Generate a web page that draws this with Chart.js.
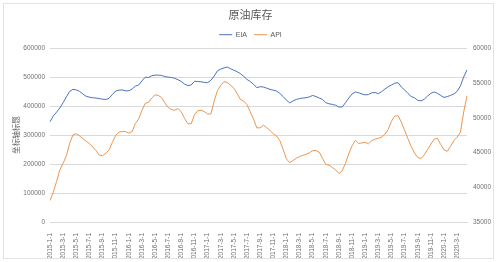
<!DOCTYPE html>
<html><head><meta charset="utf-8">
<script src="https://cdn.jsdelivr.net/npm/chart.js@4.4.1/dist/chart.umd.min.js"></script>
<style>
html,body{margin:0;padding:0;background:#fff;}
#wrap{position:relative;width:499px;height:262px;}
#frame{position:absolute;left:3px;top:3px;width:489px;height:254px;border:1px solid #e3e3e3;pointer-events:none;}
</style></head><body>
<div id="wrap"><canvas id="c" width="499" height="262"></canvas><div id="frame"></div></div>
<script>
const categories = [
'2015-1-1','2015-1-15','2015-2-1','2015-2-15','2015-3-1','2015-3-15','2015-4-1','2015-4-15','2015-5-1','2015-5-15','2015-6-1','2015-6-15',
'2015-7-1','2015-7-15','2015-8-1','2015-8-15','2015-9-1','2015-9-15','2015-10-1','2015-10-15','2015-11-1','2015-11-15','2015-12-1','2015-12-15',
'2016-1-1','2016-1-15','2016-2-1','2016-2-15','2016-3-1','2016-3-15','2016-4-1','2016-4-15','2016-5-1','2016-5-15','2016-6-1','2016-6-15',
'2016-7-1','2016-7-15','2016-8-1','2016-8-15','2016-9-1','2016-9-15','2016-10-1','2016-10-15','2016-11-1','2016-11-15','2016-12-1','2016-12-15',
'2017-1-1','2017-1-15','2017-2-1','2017-2-15','2017-3-1','2017-3-15','2017-4-1','2017-4-15','2017-5-1','2017-5-15','2017-6-1','2017-6-15',
'2017-7-1','2017-7-15','2017-8-1','2017-8-15','2017-9-1','2017-9-15','2017-10-1','2017-10-15','2017-11-1','2017-11-15','2017-12-1','2017-12-15',
'2018-1-1','2018-1-15','2018-2-1','2018-2-15','2018-3-1','2018-3-15','2018-4-1','2018-4-15','2018-5-1','2018-5-15','2018-6-1','2018-6-15',
'2018-7-1','2018-7-15','2018-8-1','2018-8-15','2018-9-1','2018-9-15','2018-10-1','2018-10-15','2018-11-1','2018-11-15','2018-12-1','2018-12-15',
'2019-1-1','2019-1-15','2019-2-1','2019-2-15','2019-3-1','2019-3-15','2019-4-1','2019-4-15','2019-5-1','2019-5-15','2019-6-1','2019-6-15',
'2019-7-1','2019-7-15','2019-8-1','2019-8-15','2019-9-1','2019-9-15','2019-10-1','2019-10-15','2019-11-1','2019-11-15','2019-12-1','2019-12-15',
'2020-1-1','2020-1-15','2020-2-1','2020-2-15','2020-3-1','2020-3-15','2020-4-1','2020-4-15'
];
const xTickLabels = [
'2015-1-1','2015-3-1','2015-5-1','2015-7-1','2015-9-1','2015-11-1',
'2016-1-1','2016-3-1','2016-5-1','2016-7-1','2016-9-1','2016-11-1',
'2017-1-1','2017-3-1','2017-5-1','2017-7-1','2017-9-1','2017-11-1',
'2018-1-1','2018-3-1','2018-5-1','2018-7-1','2018-9-1','2018-11-1',
'2019-1-1','2019-3-1','2019-5-1','2019-7-1','2019-9-1','2019-11-1',
'2020-1-1','2020-3-1'
];
const eia = [
346000,366000,379000,394000,412000,432000,451000,458000,456000,451000,
442000,434000,431000,429000,428000,426000,424000,423000,427000,440000,
452000,455000,456000,453000,453000,459000,469000,473000,487000,500000,
499000,505000,507000,507000,506000,502000,500000,499000,496000,491000,
485000,476000,471000,473000,486000,485000,484000,482000,481000,489000,
504000,522000,528000,532000,535000,529000,524000,519000,512000,503000,
492000,485000,475000,464000,467000,466000,462000,458000,455000,452000,
444000,433000,421000,411000,418000,423000,426000,428000,429000,432000,
437000,433000,428000,423000,412000,408000,406000,403000,397000,397000,
412000,428000,442000,449000,446000,442000,439000,440000,446000,447000,
443000,450000,459000,467000,473000,479000,481000,466000,456000,444000,
433000,429000,420000,418000,424000,435000,444000,449000,444000,437000,
430000,433000,437000,442000,451000,470000,501000,525000
];
const api = [
38080,39290,40830,42500,43460,44540,46330,47540,47710,47380,
47000,46630,46290,45790,45290,44630,44540,44880,45380,46460,
47460,47920,48040,48000,47790,48000,49170,49830,51040,52080,
52210,52830,53290,53210,52880,52130,51460,51170,51080,51330,
50830,49880,49130,49130,50420,51000,51080,50880,50540,50540,
52380,53920,54670,55170,55080,54670,54250,53460,52630,52380,
51880,50830,49790,48540,48540,48920,48580,48170,47710,47380,
46710,45460,44080,43540,43830,44170,44420,44580,44750,44960,
45250,45290,45040,44170,43290,43170,42830,42500,41960,42380,
43460,44830,45960,46750,46290,46380,46460,46250,46710,46920,
47040,47210,47630,48330,49500,50250,50290,49380,48170,47000,
45880,44920,44290,44130,44670,45460,46210,46920,47040,46130,
45380,45170,45880,46710,47210,47920,50830,53170
];
const seriesNames = ['EIA','API'];
const chartTitle = '原油库存';
const leftAxisTitle = '坐标轴标题';

const tickFont = {family:"'Liberation Sans', Arial, sans-serif", size:6.5};
const tickColor = '#707070';
const cjk = "'Noto Sans CJK SC', sans-serif";

new Chart(document.getElementById('c'), {
  type:'line',
  data:{
    labels:categories,
    datasets:[
      {label:seriesNames[0], data:eia, yAxisID:'y', borderColor:'#4a72bd', backgroundColor:'#4a72bd', borderWidth:1, pointRadius:0, tension:0},
      {label:seriesNames[1], data:api, yAxisID:'y1', borderColor:'#ec9550', backgroundColor:'#ec9550', borderWidth:1, pointRadius:0, tension:0}
    ]
  },
  options:{
    responsive:false, animation:false, devicePixelRatio:1,
    layout:{padding:{left:8,right:6,top:0,bottom:4}},
    plugins:{
      title:{display:true,text:chartTitle,color:'#595959',font:{family:cjk,size:11,weight:'normal'},padding:{top:8,bottom:3}},
      legend:{display:true,labels:{usePointStyle:true,pointStyle:'line',pointStyleWidth:13,boxHeight:7,padding:7,color:'#595959',font:{family:"'Liberation Sans', Arial, sans-serif",size:7}}},
      tooltip:{enabled:false}
    },
    scales:{
      x:{
        type:'category', offset:false,
        grid:{display:false},
        border:{display:true,color:'#d9d9d9'},
        ticks:{autoSkip:false,maxRotation:90,minRotation:90,padding:3,font:tickFont,color:tickColor,
          callback(v){const l=this.getLabelForValue(v);return xTickLabels.includes(l)?l:'';}},
        afterFit(s){s.height=36;}
      },
      y:{
        position:'left', min:0, max:600000,
        ticks:{stepSize:100000,padding:5,font:tickFont,color:tickColor,callback:v=>String(v)},
        grid:{color:'#d9d9d9',drawTicks:false},
        border:{display:false},
        title:{display:true,text:leftAxisTitle,color:'#595959',font:{family:cjk,size:7.5},padding:{top:4,bottom:2}},
        afterFit(s){s.width=42;}
      },
      y1:{
        position:'right', min:35000, max:60000,
        ticks:{stepSize:5000,padding:6,font:tickFont,color:tickColor,callback:v=>String(v)},
        grid:{display:false,drawTicks:false},
        border:{display:false},
        afterFit(s){s.width=26;}
      }
    }
  }
});
</script>
</body></html>
